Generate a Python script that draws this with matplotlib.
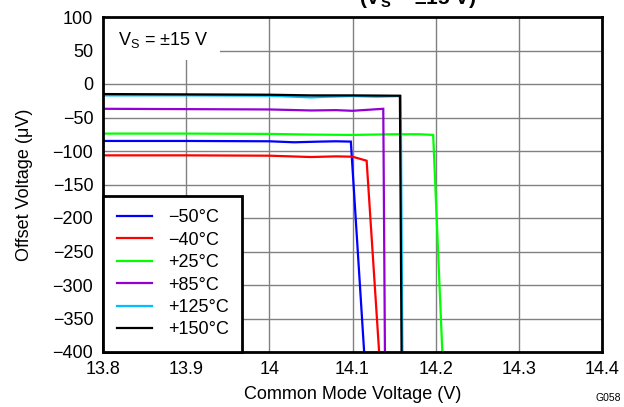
import matplotlib
matplotlib.use("Agg")
import matplotlib.pyplot as plt
from matplotlib.patches import Rectangle

plt.rcParams['font.family'] = ['Liberation Sans', 'DejaVu Sans']
plt.rcParams['mathtext.fontset'] = 'custom'
plt.rcParams['mathtext.rm'] = 'Liberation Sans'

labels = ['\u221250\u00b0C', '\u221240\u00b0C', '+25\u00b0C', '+85\u00b0C', '+125\u00b0C', '+150\u00b0C']
colors = ['#0000ff', '#ff0000', '#00ff00', '#9400d3', '#00bfff', '#000000']

x_m50 = [13.8, 13.9, 14.0, 14.03, 14.06, 14.08, 14.098, 14.114]
y_m50 = [-85, -85, -85.5, -87, -86, -85.5, -86, -400]
x_m40 = [13.8, 13.9, 14.0, 14.05, 14.08, 14.1, 14.117, 14.132]
y_m40 = [-106.5, -106.5, -107, -109, -108, -108.5, -114.5, -400]
x_25 = [13.8, 13.9, 14.0, 14.05, 14.1, 14.15, 14.18, 14.197, 14.208]
y_25 = [-74, -74, -74.5, -75.5, -76, -75, -75, -76, -400]
x_85 = [13.8, 13.9, 14.0, 14.05, 14.08, 14.1, 14.137, 14.139]
y_85 = [-37, -37.5, -38, -39.5, -39, -40, -37, -400]
x_125 = [13.8, 13.9, 14.0, 14.05, 14.07, 14.1, 14.13, 14.158, 14.16]
y_125 = [-17, -17, -17.5, -20, -19, -18, -19, -18, -400]
x_150 = [13.8, 13.9, 14.0, 14.05, 14.1, 14.157, 14.159]
y_150 = [-15, -15.5, -16, -17, -17, -17.5, -400]

xs = [x_m50, x_m40, x_25, x_85, x_125, x_150]
ys = [y_m50, y_m40, y_25, y_85, y_125, y_150]

xticks = [13.8, 13.9, 14.0, 14.1, 14.2, 14.3, 14.4]
xticklabels = ['13.8', '13.9', '14', '14.1', '14.2', '14.3', '14.4']
yticks = [100, 50, 0, -50, -100, -150, -200, -250, -300, -350, -400]

W, H = 624, 407
fig = plt.figure(figsize=(W / 100, H / 100), dpi=100)
ax = fig.add_axes([103 / W, 1 - 352 / H, (602 - 103) / W, (352 - 17) / H])
ax.set_axisbelow(True)

order = [2, 0, 1, 3, 4, 5]
handles = [None] * 6
for i in order:
    h, = ax.plot(xs[i], ys[i], color=colors[i], lw=1.6, zorder=2 + i * 0.1,
                 solid_joinstyle='miter')
    handles[i] = h

FS = 13
ax.set_xlim(13.8, 14.4)
ax.set_ylim(-400, 100)
ax.set_xticks(xticks)
ax.set_xticklabels(xticklabels)
ax.set_yticks(yticks)
ax.set_yticklabels([str(v).replace('-', '\u2212') for v in yticks])
ax.tick_params(length=0, labelsize=FS)
ax.tick_params(axis='x', pad=6.5)
ax.tick_params(axis='y', pad=7)
ax.grid(True, color='#808080', lw=1)
for s in ax.spines.values():
    s.set_linewidth(2)

ax.set_xlabel('Common Mode Voltage (V)', fontsize=FS, labelpad=5.5)
ax.set_ylabel('Offset Voltage (\u03bcV)', fontsize=FS, labelpad=14)

# white box behind annotation
ax.add_patch(Rectangle((0, (352 - 60) / 335), (220 - 103) / 499, 1 - (352 - 60) / 335,
                       transform=ax.transAxes, facecolor='white', edgecolor='none', zorder=1))
ax.text((118 - 103) / 499, (352 - 45) / 335, 'V$_\\mathregular{S}$ = \u00b115 V',
        transform=ax.transAxes, fontsize=FS, va='baseline', ha='left', zorder=3)

leg = ax.legend(handles, labels, loc='lower left', bbox_to_anchor=(0, 0),
                borderaxespad=0, fancybox=False, framealpha=1, edgecolor='black',
                fontsize=FS, handlelength=1.95, handletextpad=0.9, labelspacing=0.3,
                borderpad=0.75)
leg.get_frame().set_linewidth(2)
leg.set_zorder(5)

fig.text(418 / W, 1 - 4 / H, '(V$_\\mathregular{S}$ = \u00b115 V)', fontsize=15,
         fontweight='bold', ha='center', va='baseline')
fig.text(621 / W, 1 - 401 / H, 'G058', fontsize=7.5, ha='right', va='baseline')

fig.savefig('out.png', dpi=100)
